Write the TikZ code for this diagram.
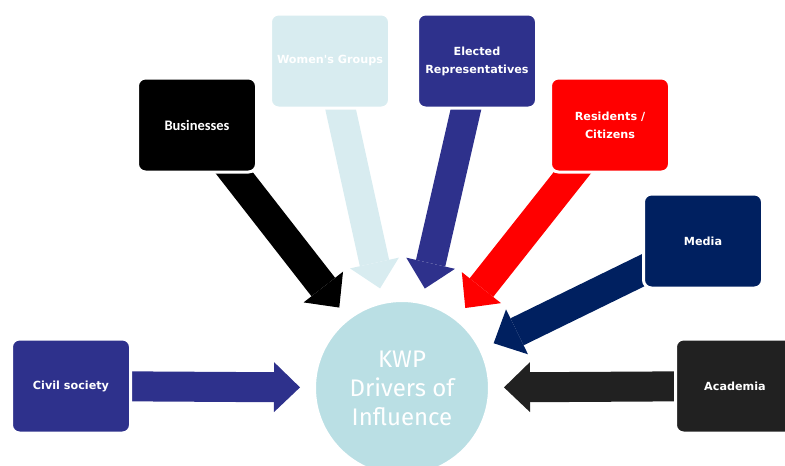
\documentclass[tikz,border=0pt]{standalone}
\usepackage{fontspec}
\setmainfont{Fira Sans}
\newfontfamily\labelfont{DejaVu Sans}
\newfontfamily\bizfont{Carlito}
\usetikzlibrary{arrows.meta,backgrounds}
\definecolor{indigo}{RGB}{46,49,140}
\definecolor{paleaqua}{RGB}{216,236,240}
\definecolor{circleaqua}{RGB}{186,223,228}
\definecolor{navy}{RGB}{0,32,96}
\definecolor{charcoal}{RGB}{33,33,33}
\tikzset{
  driver/.style={rounded corners=8pt, minimum width=119pt, minimum height=94pt,
    inner sep=2pt, draw=white, line width=3pt, text=white, align=center,
    font=\labelfont\bfseries\fontsize{11.2}{18}\selectfont},
  push/.style={line width=30pt, shorten <=-20pt, shorten >=14pt,
    -{Triangle[length=26pt,width=50pt,line width=0pt]}},
}

\begin{document}
\begin{tikzpicture}[x=1pt,y=-1pt]
\useasboundingbox (0,0) rectangle (785,466);
\node[circle, fill=circleaqua, draw=white, line width=2pt, minimum size=174pt,
  text=white, align=center, font=\fontsize{24}{29}\selectfont] (kwp) at (402,388)
  {KWP\\Drivers of\\Influence};
\node[driver, fill=indigo] (civil) at (71,386) {Civil society};
\node[driver, fill=black, font=\bizfont\bfseries\fontsize{14.5}{17}\selectfont] (biz) at (197,125) {Businesses};
\node[driver, fill=paleaqua] (women) at (330,61) {Women's Groups};
\node[driver, fill=indigo] (elected) at (477,61) {Elected\\Representatives};
\node[driver, fill=red] (residents) at (610,125) {Residents /\\Citizens};
\node[driver, fill=navy] (media) at (703,241) {Media};
\node[driver, fill=charcoal] (academia) at (735,386) {Academia};
\begin{scope}[on background layer]
\draw[push, indigo] (civil) -- (kwp);
\draw[push, black] (biz) -- (kwp);
\draw[push, paleaqua] (women) -- (kwp);
\draw[push, indigo] (elected) -- (kwp);
\draw[push, red] (residents) -- (kwp);
\draw[push, navy] (media) -- (kwp);
\draw[push, charcoal] (academia) -- (kwp);
\end{scope}
\end{tikzpicture}
\end{document}
